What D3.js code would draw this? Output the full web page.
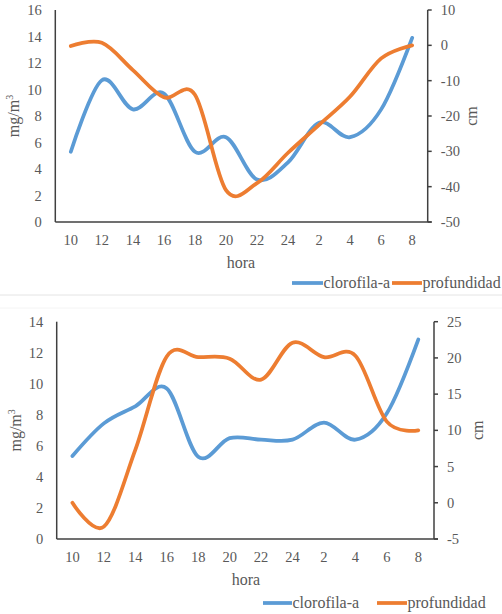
<!DOCTYPE html>
<html><head><meta charset="utf-8">
<script src="https://cdn.jsdelivr.net/npm/d3@7"></script>
<style>
body{margin:0;background:#fff;}
svg{display:block;}
svg text{font-family:"Liberation Serif","Times New Roman",serif;}
</style></head>
<body>
<svg id="c" width="502" height="614"></svg>
<script>
const horas = ["10","12","14","16","18","20","22","24","2","4","6","8"];
// Chart 1
const clorofila1 = [5.3,10.7,8.5,9.7,5.3,6.4,3.2,4.5,7.5,6.4,8.5,13.9];
const profundidad1 = [-0.2,0.7,-7,-14.7,-14,-41,-39,-30.4,-22.5,-14.5,-3.7,0];
const left1Ticks = [0,2,4,6,8,10,12,14,16];
const right1Ticks = [-50,-40,-30,-20,-10,0,10];
// Chart 2
const clorofila2 = [5.35,7.45,8.55,9.7,5.3,6.5,6.4,6.4,7.5,6.4,8.1,12.85];
const profundidad2 = [0,-3.3,7.3,20.2,20.1,19.9,17.0,22.1,20.1,20.3,11.2,10.0];
const left2Ticks = [0,2,4,6,8,10,12,14];
const right2Ticks = [-5,0,5,10,15,20,25];
const seriesNames = ["clorofila-a","profundidad"];
const colors = ["#5B9BD5","#ED7D31"];

const svg = d3.select("#c");

function T(sel, fs){ return sel.attr("fill", "#595959").attr("font-size", fs || 14.5); }

function chart(cfg){
  const g = svg.append("g");
  const x = d3.scaleBand().domain(horas).range([cfg.left, cfg.right]).padding(0);
  const yl = d3.scaleLinear().domain(d3.extent(cfg.lt)).range([cfg.bottom, cfg.top]);
  const yr = d3.scaleLinear().domain(d3.extent(cfg.rt)).range([cfg.bottom, cfg.top]);
  const cx = d => x(d) + x.bandwidth()/2;

  T(g.selectAll(".lt").data(cfg.lt).join("text")
    .attr("x", cfg.left - 13.5).attr("y", d => yl(d) + 5)
    .attr("text-anchor","end").text(d => d));
  T(g.selectAll(".rt").data(cfg.rt).join("text")
    .attr("x", cfg.right + 13).attr("y", d => yr(d) + 5)
    .attr("text-anchor","start").text(d => d));
  g.selectAll(".rtk").data(cfg.rt).join("line")
    .attr("x1", cfg.right).attr("x2", cfg.right + 4)
    .attr("y1", d => yr(d)).attr("y2", d => yr(d))
    .attr("stroke","#404040").attr("stroke-width",1.5);
  T(g.selectAll(".xt").data(horas).join("text")
    .attr("x", d => cx(d)).attr("y", cfg.bottom + 23)
    .attr("text-anchor","middle").text(d => d));

  const line = ys => d3.line().x((d,i) => cx(horas[i])).y(d => ys(d)).curve(d3.curveCatmullRom.alpha(0));
  g.append("path").datum(cfg.c).attr("d", line(yl)).attr("fill","none")
    .attr("stroke", colors[0]).attr("stroke-width",3.75).attr("stroke-linecap","round");
  g.append("path").datum(cfg.p).attr("d", line(yr)).attr("fill","none")
    .attr("stroke", colors[1]).attr("stroke-width",3.75).attr("stroke-linecap","round");

  g.append("line").attr("x1",cfg.left).attr("x2",cfg.left).attr("y1",cfg.top).attr("y2",cfg.bottom)
    .attr("stroke","#404040").attr("stroke-width",1.5);
  g.append("line").attr("x1",cfg.right).attr("x2",cfg.right).attr("y1",cfg.top).attr("y2",cfg.bottom)
    .attr("stroke","#404040").attr("stroke-width",1.5);
  g.append("line").attr("x1",cfg.left).attr("x2",cfg.right+4).attr("y1",cfg.bottom).attr("y2",cfg.bottom)
    .attr("stroke","#404040").attr("stroke-width",1.5);

  const mt = T(g.append("text").attr("transform",`translate(${cfg.left - 36},${(cfg.top+cfg.bottom)/2}) rotate(-90)`)
    .attr("text-anchor","middle"), 16);
  mt.append("tspan").text("mg/m");
  mt.append("tspan").attr("dy",-6).attr("font-size",10).text("3");
  T(g.append("text").attr("transform",`translate(${cfg.right + 49},${(cfg.top+cfg.bottom)/2}) rotate(-90)`)
    .attr("text-anchor","middle").text("cm"), 16);
  T(g.append("text").attr("x", cfg.horaX).attr("y", cfg.bottom + 46)
    .attr("text-anchor","middle").text("hora"), 16);

  const lg = g.append("g");
  cfg.leg.forEach((L,i) => {
    lg.append("line").attr("x1",L[0]).attr("x2",L[1]).attr("y1",cfg.legY - 5).attr("y2",cfg.legY - 5)
      .attr("stroke",colors[i]).attr("stroke-width",3.75);
    T(lg.append("text").attr("x",L[1] + 0.5).attr("y",cfg.legY).text(seriesNames[i]), 16);
  });
}

chart({left:55.3, right:427.7, top:10, bottom:222, lt:left1Ticks, rt:right1Ticks,
  c:clorofila1, p:profundidad1, horaX:241, legY:288, leg:[[292,323],[392,422]]});
chart({left:56.7, right:434, top:321.7, bottom:539, lt:left2Ticks, rt:right2Ticks,
  c:clorofila2, p:profundidad2, horaX:246, legY:608, leg:[[263,292],[377,407]]});

svg.append("line").attr("x1",0).attr("x2",502).attr("y1",295).attr("y2",295)
  .attr("stroke","#e4e4e4").attr("stroke-width",1);
svg.append("line").attr("x1",0).attr("x2",502).attr("y1",308).attr("y2",308)
  .attr("stroke","#f4f4f4").attr("stroke-width",1);
</script>
</body></html>
